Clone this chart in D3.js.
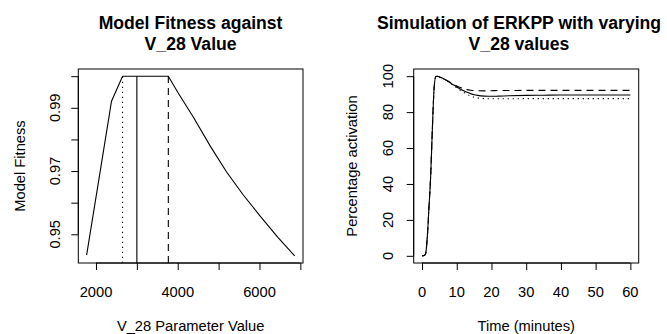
<html>
<head>
  <meta charset="utf-8">
  <title>V_28 fitness</title>
  <script src="https://d3js.org/d3.v7.min.js"></script>
  <style>
    body { margin: 0; background: #fff; }
    text { font-family: "Liberation Sans", Arial, Helvetica, sans-serif; fill: #000; }
  </style>
</head>
<body>
<script>
// left panel data: model fitness against V_28
var fitV28 = [1771, 2080, 2380, 2650, 3000, 3770, 4000, 4380, 4800, 5195, 5600, 6007, 6450, 6861];
var fitness = [0.9434, 0.9681, 0.9921, 1.0, 1.0, 1.0, 0.9949, 0.9871, 0.9778, 0.9697, 0.9625, 0.9559, 0.9490, 0.9432];
var markV28 = [2650, 3000, 3770];          // dotted, solid, dashed
var fitXTicks = [2000, 3000, 4000, 5000, 6000, 7000];
var fitXLabels = [2000, 4000, 6000];
var fitYTicks = [0.95, 0.96, 0.97, 0.98, 0.99, 1.00];
var fitYLabels = [0.95, 0.97, 0.99];

// right panel data: ERKPP simulation
var time = [0, 0.5, 1, 1.5, 2, 2.5, 3, 3.5, 4, 4.5, 5, 6, 7, 8, 9, 10, 11, 12, 13, 14, 15, 16, 18, 20, 22, 25, 30, 35, 40, 45, 50, 55, 60];
var erkDotted = [0, 0, 1, 10, 27, 45, 72, 94, 99.8, 100, 99.6, 98.8, 97.6, 96.3, 94.9, 93.5, 92.2, 91.0, 89.9, 89.0, 88.3, 87.9, 87.5, 87.4, 87.4, 87.4, 87.5, 87.5, 87.5, 87.5, 87.5, 87.5, 87.5];
var erkSolid  = [0, 0, 1, 10, 27, 45, 72, 94, 99.8, 100, 99.6, 98.8, 97.7, 96.5, 95.2, 94.0, 92.9, 91.9, 91.0, 90.3, 89.7, 89.3, 88.9, 88.8, 88.9, 89.1, 89.3, 89.4, 89.5, 89.5, 89.5, 89.5, 89.5];
var erkDashed = [0, 0, 1, 10, 27, 45, 72, 94, 99.8, 100, 99.6, 98.8, 97.8, 96.7, 95.6, 94.6, 93.7, 93.0, 92.5, 92.2, 92.0, 91.9, 91.8, 91.9, 92.0, 92.0, 92.1, 92.1, 92.1, 92.1, 92.1, 92.1, 92.1];
var timeTicks = [0, 10, 20, 30, 40, 50, 60];
var pctTicks = [0, 20, 40, 60, 80, 100];

var width = 667, height = 334;
var dashStyle = {dotted: "1.2,3.8", solid: null, dashed: "7,5"};

var svg = d3.select("body").append("svg")
  .attr("width", width).attr("height", height);

// R style 4% padding
function rDomain(ext) {
  var pad = (ext[1] - ext[0]) * 0.04;
  return [ext[0] - pad, ext[1] + pad];
}

function panel(opt) {
  var x = d3.scaleLinear().domain(rDomain(opt.xExt)).range([opt.left, opt.right]);
  var y = d3.scaleLinear().domain(rDomain(opt.yExt)).range([opt.bottom, opt.top]);
  var g = svg.append("g");

  // box
  g.append("rect")
    .attr("x", opt.left).attr("y", opt.top)
    .attr("width", opt.right - opt.left).attr("height", opt.bottom - opt.top)
    .attr("fill", "none").attr("stroke", "#000").attr("stroke-width", 1);

  // x axis
  var xa = g.append("g").attr("transform", "translate(0," + opt.bottom + ")")
    .call(d3.axisBottom(x).tickValues(opt.xTicks).tickSize(7).tickFormat(""));
  xa.select(".domain").attr("d", "M" + x(opt.xTicks[0]) + ",0H" + x(opt.xTicks[opt.xTicks.length - 1]));
  g.selectAll(".xlab").data(opt.xLabels).enter().append("text")
    .attr("x", function(d){ return x(d); })
    .attr("y", 297)
    .attr("text-anchor", "middle")
    .style("font-size", "14.7px")
    .text(function(d){ return d; });

  // y axis
  var ya = g.append("g").attr("transform", "translate(" + opt.left + ",0)")
    .call(d3.axisLeft(y).tickValues(opt.yTicks).tickSize(7).tickFormat(""));
  ya.select(".domain").attr("d", "M0," + y(opt.yTicks[0]) + "V" + y(opt.yTicks[opt.yTicks.length - 1]));
  g.selectAll(".ylab").data(opt.yLabels).enter().append("text")
    .attr("transform", function(d){ return "translate(" + opt.yLabX + "," + y(d) + ") rotate(-90)"; })
    .attr("text-anchor", "middle")
    .style("font-size", "14.7px")
    .text(function(d){ return opt.yFmt(d); });

  g.selectAll(".tick line").attr("stroke", "#000");
  g.selectAll(".domain").attr("stroke", "#000");

  // axis titles
  g.append("text")
    .attr("x", (opt.left + opt.right) / 2).attr("y", 331)
    .attr("text-anchor", "middle").style("font-size", "14.7px")
    .text(opt.xTitle);
  g.append("text")
    .attr("transform", "translate(" + opt.yTitleX + "," + (opt.top + opt.bottom) / 2 + ") rotate(-90)")
    .attr("text-anchor", "middle").style("font-size", "14.7px")
    .text(opt.yTitle);

  // main title
  g.selectAll(".title").data(opt.title).enter().append("text")
    .attr("x", opt.titleX)
    .attr("y", function(d, i){ return 29.3 + i * 20.7; })
    .attr("text-anchor", "middle")
    .style("font-size", "17.6px").style("font-weight", "bold")
    .text(function(d){ return d; });

  return {x: x, y: y, g: g};
}

// ---------- left panel ----------
var p1 = panel({
  left: 78.3, right: 303, top: 69, bottom: 263,
  xExt: d3.extent(fitV28), yExt: d3.extent(fitness),
  xTicks: fitXTicks, xLabels: fitXLabels,
  yTicks: fitYTicks, yLabels: fitYLabels, yLabX: 60, yFmt: d3.format(".2f"),
  xTitle: "V_28 Parameter Value", yTitle: "Model Fitness", yTitleX: 24.5,
  title: ["Model Fitness against", "V_28 Value"], titleX: 190.6
});

var fitLine = d3.line()
  .x(function(d, i){ return p1.x(fitV28[i]); })
  .y(function(d){ return p1.y(d); });

p1.g.append("path").datum(fitness)
  .attr("d", fitLine)
  .attr("fill", "none").attr("stroke", "#000").attr("stroke-width", 1.1);

var markStyles = ["dotted", "solid", "dashed"];
p1.g.selectAll(".mark").data(markV28).enter().append("line")
  .attr("x1", function(d){ return p1.x(d); })
  .attr("x2", function(d){ return p1.x(d); })
  .attr("y1", p1.y.range()[0])
  .attr("y2", p1.y(1.0))
  .attr("stroke", "#000").attr("stroke-width", 1.1)
  .attr("stroke-dasharray", function(d, i){ return dashStyle[markStyles[i]]; });

// ---------- right panel ----------
var p2 = panel({
  left: 413.7, right: 638.7, top: 69, bottom: 263,
  xExt: [0, 60], yExt: [0, 100],
  xTicks: timeTicks, xLabels: timeTicks,
  yTicks: pctTicks, yLabels: pctTicks, yLabX: 393, yFmt: function(d){ return d; },
  xTitle: "Time (minutes)", yTitle: "Percentage activation", yTitleX: 357,
  title: ["Simulation of ERKPP with varying", "V_28 values"], titleX: 519
});

var erkLine = d3.line()
  .x(function(d, i){ return p2.x(time[i]); })
  .y(function(d){ return p2.y(d); })
  .curve(d3.curveMonotoneX);

var series = [
  {vals: erkDotted, style: "dotted"},
  {vals: erkDashed, style: "dashed"},
  {vals: erkSolid, style: "solid"}
];
p2.g.selectAll(".erk").data(series).enter().append("path")
  .attr("d", function(d){ return erkLine(d.vals); })
  .attr("fill", "none").attr("stroke", "#000").attr("stroke-width", 1.1)
  .attr("stroke-dasharray", function(d){ return dashStyle[d.style]; });
</script>
</body>
</html>
